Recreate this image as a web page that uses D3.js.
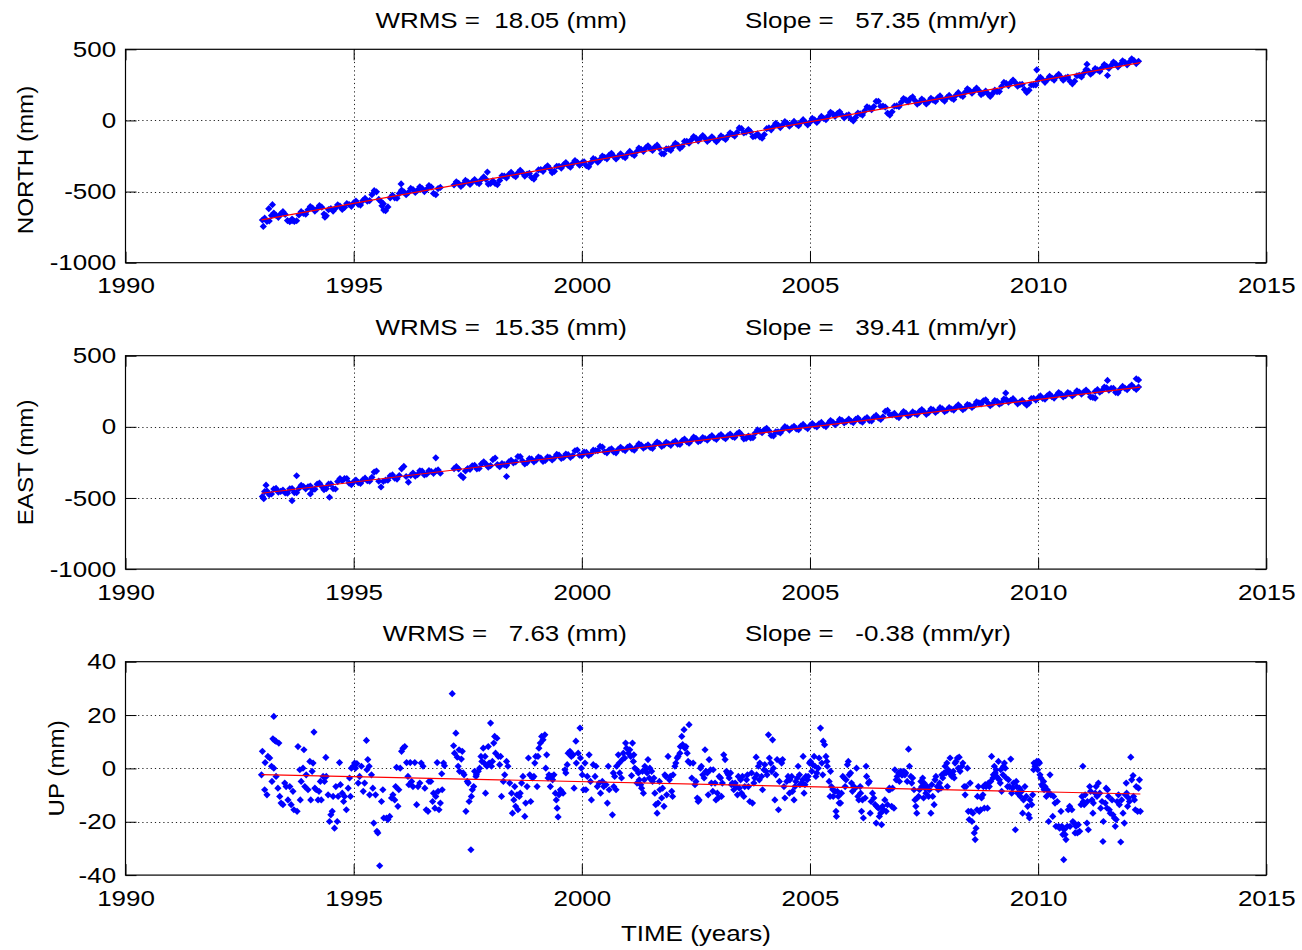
<!DOCTYPE html>
<html>
<head>
<meta charset="utf-8">
<script src="https://cdn.jsdelivr.net/npm/d3@7"></script>
<style>
  body { margin: 0; background: #fff; }
  svg text { font-family: "Liberation Sans", Arial, Helvetica, sans-serif; fill: #000; }
</style>
</head>
<body>
<svg id="chart" width="1302" height="950"></svg>
<script>

// epochs shared by NORTH and EAST (decimal years), gap around 1997.0
const neEpochs = [
  1993.0,1993.1,1993.2,1993.3,1993.4,1993.5,1993.6,1993.7,1993.8,1993.9,
  1994.0,1994.1,1994.2,1994.3,1994.4,1994.5,1994.6,1994.7,1994.8,1994.9,
  1995.0,1995.1,1995.2,1995.3,1995.4,1995.5,1995.6,1995.7,1995.8,1995.9,
  1996.0,1996.1,1996.2,1996.3,1996.4,1996.5,1996.6,1996.7,1996.8,1996.9,
  1997.2,1997.3,1997.4,1997.5,1997.6,1997.7,1997.8,1997.9,
  1998.0,1998.1,1998.2,1998.3,1998.4,1998.5,1998.6,1998.7,1998.8,1998.9,
  1999.0,1999.1,1999.2,1999.3,1999.4,1999.5,1999.6,1999.7,1999.8,1999.9,
  2000.0,2000.1,2000.2,2000.3,2000.4,2000.5,2000.6,2000.7,2000.8,2000.9,
  2001.0,2001.1,2001.2,2001.3,2001.4,2001.5,2001.6,2001.7,2001.8,2001.9,
  2002.0,2002.1,2002.2,2002.3,2002.4,2002.5,2002.6,2002.7,2002.8,2002.9,
  2003.0,2003.1,2003.2,2003.3,2003.4,2003.5,2003.6,2003.7,2003.8,2003.9,
  2004.0,2004.1,2004.2,2004.3,2004.4,2004.5,2004.6,2004.7,2004.8,2004.9,
  2005.0,2005.1,2005.2,2005.3,2005.4,2005.5,2005.6,2005.7,2005.8,2005.9,
  2006.0,2006.1,2006.2,2006.3,2006.4,2006.5,2006.6,2006.7,2006.8,2006.9,
  2007.0,2007.1,2007.2,2007.3,2007.4,2007.5,2007.6,2007.7,2007.8,2007.9,
  2008.0,2008.1,2008.2,2008.3,2008.4,2008.5,2008.6,2008.7,2008.8,2008.9,
  2009.0,2009.1,2009.2,2009.3,2009.4,2009.5,2009.6,2009.7,2009.8,2009.9,
  2010.0,2010.1,2010.2,2010.3,2010.4,2010.5,2010.6,2010.7,2010.8,2010.9,
  2011.0,2011.1,2011.2,2011.3,2011.4,2011.5,2011.6,2011.7,2011.8,2011.9,
  2012.0,2012.1,2012.2
];

const northMm = [
  -700,-709,-669,-668,-657,-661,-711,-710,-664,-653,
  -628,-617,-621,-610,-670,-619,-618,-603,-612,-591,
  -580,-590,-564,-568,-522,-502,-571,-635,-544,-544,
  -513,-502,-506,-486,-490,-479,-484,-468,-522,-471,
  -454,-443,-448,-432,-431,-436,-415,-414,
  -443,-443,-422,-391,-380,-385,-369,-368,-377,-402,
  -386,-345,-334,-339,-358,-322,-312,-316,-305,-294,
  -299,-318,-297,-276,-276,-260,-244,-253,-253,-252,
  -236,-236,-220,-204,-193,-198,-187,-196,-235,-200,
  -184,-173,-182,-147,-136,-125,-124,-124,-133,-132,
  -132,-121,-110,-99,-84,-58,-82,-81,-111,-115,
  -99,-53,-43,-32,-31,-20,-25,-24,-13,-13,
  -12,4,5,15,31,47,48,38,34,10,
  21,46,67,88,98,134,100,51,61,102,
  128,144,154,140,126,137,132,143,159,149,
  160,156,177,177,198,209,210,210,191,187,
  188,203,239,260,266,266,252,218,213,249,
  285,286,286,297,308,304,299,275,276,317,
  332,348,339,355,370,381,387,397,393,409,
  410,420,416
];

const eastMm = [
  -490,-451,-472,-433,-454,-465,-436,-462,-433,-420,
  -421,-442,-403,-419,-435,-401,-437,-363,-364,-395,
  -386,-392,-373,-379,-355,-311,-423,-374,-345,-361,
  -342,-278,-389,-325,-336,-312,-333,-314,-310,-326,
  -294,-296,-357,-293,-274,-295,-261,-262,
  -273,-219,-280,-266,-247,-253,-209,-240,-251,-227,
  -234,-220,-236,-217,-218,-199,-215,-196,-202,-163,
  -204,-180,-191,-167,-138,-175,-161,-177,-158,-159,
  -145,-156,-142,-128,-139,-145,-126,-117,-128,-119,
  -110,-121,-97,-104,-95,-81,-97,-83,-74,-80,
  -66,-72,-63,-69,-50,-56,-82,-78,-44,-30,
  -21,-28,-64,-35,-21,-7,-8,-14,5,-1,
  8,7,21,10,24,33,27,46,39,38,
  52,41,55,44,68,62,71,115,84,73,
  87,96,85,94,108,106,100,119,113,127,
  116,125,139,138,132,151,150,169,183,167,
  161,179,168,192,186,180,174,168,167,201,
  205,199,218,212,221,230,219,233,231,245,
  244,243,207,261,255,274,270,242,266,272,
  280,276,280
];

// in-between epochs (band edges)
const neEpochsMid = [
  1993.05,1993.15,1993.25,1993.35,1993.45,1993.55,1993.65,1993.75,1993.85,1993.95,
  1994.05,1994.15,1994.25,1994.35,1994.45,1994.55,1994.65,1994.75,1994.85,1994.95,
  1995.05,1995.15,1995.25,1995.35,1995.45,1995.55,1995.65,1995.75,1995.85,1995.95,
  1996.05,1996.15,1996.25,1996.35,1996.45,1996.55,1996.65,1996.75,1996.85,
  1997.25,1997.35,1997.45,1997.55,1997.65,1997.75,1997.85,1997.95,
  1998.05,1998.15,1998.25,1998.35,1998.45,1998.55,1998.65,1998.75,1998.85,1998.95,
  1999.05,1999.15,1999.25,1999.35,1999.45,1999.55,1999.65,1999.75,1999.85,1999.95,
  2000.05,2000.15,2000.25,2000.35,2000.45,2000.55,2000.65,2000.75,2000.85,2000.95,
  2001.05,2001.15,2001.25,2001.35,2001.45,2001.55,2001.65,2001.75,2001.85,2001.95,
  2002.05,2002.15,2002.25,2002.35,2002.45,2002.55,2002.65,2002.75,2002.85,2002.95,
  2003.05,2003.15,2003.25,2003.35,2003.45,2003.55,2003.65,2003.75,2003.85,2003.95,
  2004.05,2004.15,2004.25,2004.35,2004.45,2004.55,2004.65,2004.75,2004.85,2004.95,
  2005.05,2005.15,2005.25,2005.35,2005.45,2005.55,2005.65,2005.75,2005.85,2005.95,
  2006.05,2006.15,2006.25,2006.35,2006.45,2006.55,2006.65,2006.75,2006.85,2006.95,
  2007.05,2007.15,2007.25,2007.35,2007.45,2007.55,2007.65,2007.75,2007.85,2007.95,
  2008.05,2008.15,2008.25,2008.35,2008.45,2008.55,2008.65,2008.75,2008.85,2008.95,
  2009.05,2009.15,2009.25,2009.35,2009.45,2009.55,2009.65,2009.75,2009.85,2009.95,
  2010.05,2010.15,2010.25,2010.35,2010.45,2010.55,2010.65,2010.75,2010.85,2010.95,
  2011.05,2011.15,2011.25,2011.35,2011.45,2011.55,2011.65,2011.75,2011.85,2011.95,
  2012.05,2012.15
];

const northMidMm = [
  -687,-707,-651,-681,-641,-704,-693,-705,-641,-659,
  -605,-637,-598,-658,-627,-637,-593,-626,-584,-604,
  -567,-595,-548,-563,-494,-555,-585,-608,-526,-547,
  -490,-522,-478,-506,-467,-500,-458,-513,-479,
  -431,-464,-422,-450,-416,-444,-397,-447,
  -425,-451,-389,-404,-365,-395,-351,-391,-372,-412,
  -348,-358,-319,-367,-322,-335,-296,-329,-282,-315,
  -291,-326,-269,-294,-250,-270,-231,-271,-235,-262,
  -218,-246,-194,-217,-178,-211,-174,-234,-200,-210,
  -161,-196,-147,-160,-113,-143,-106,-147,-115,-150,
  -109,-134,-87,-110,-53,-88,-64,-114,-95,-125,
  -58,-66,-20,-50,-8,-41,-7,-37,5,-31,
  14,-14,28,5,57,29,61,18,40,-3,
  52,38,96,75,134,99,94,38,100,97,
  154,131,165,115,150,116,156,133,172,136,
  176,148,195,169,222,191,228,182,207,169,
  213,203,267,245,284,241,253,197,249,249,
  303,268,309,284,324,283,305,257,314,306,
  358,325,365,344,393,366,410,377,419,391,
  433,400
];

const eastMidMm = [
  -455,-477,-437,-459,-444,-466,-434,-463,-411,-436,
  -416,-438,-396,-442,-403,-434,-385,-379,-364,-406,
  -374,-398,-361,-382,-318,-382,-383,-375,-338,-367,
  -295,-349,-342,-346,-309,-338,-308,-327,-303,
  -280,-342,-310,-299,-270,-293,-246,-283,
  -231,-265,-258,-272,-235,-246,-210,-261,-224,-246,
  -212,-243,-212,-233,-194,-222,-191,-214,-168,-199,
  -177,-201,-164,-168,-142,-183,-154,-183,-144,-167,
  -136,-164,-120,-149,-127,-151,-107,-138,-109,-130,
  -101,-124,-86,-115,-73,-104,-75,-94,-62,-88,
  -54,-83,-51,-75,-38,-84,-65,-76,-22,-41,
  -10,-61,-35,-43,1,-23,4,-20,17,-12,
  23,-1,31,2,44,15,52,28,54,30,
  62,33,65,41,80,52,108,85,94,65,
  107,76,105,86,122,88,125,101,135,107,
  136,117,154,120,157,136,175,161,190,149,
  185,159,195,174,198,162,186,153,199,188,
  217,194,230,202,241,210,241,217,253,230,
  259,210,249,243,280,257,271,239,284,261,
  293,263
];

// isolated points off the main band [year, mm]
const northExtra = [
  [1993.02,-745],[1993.14,-620],[1993.22,-592],[1993.65,-705],[1994.37,-680],
  [1995.62,-600],[1995.66,-630],[1996.04,-446],[1997.93,-363],[2009.97,356],
  [2011.07,395],[2011.52,316]
];

const eastExtra = [
  [1993.03,-505],[1993.08,-410],[1993.65,-519],[1993.75,-344],[1994.05,-472],
  [1994.47,-495],[1996.80,-218],[1998.35,-349],[2009.29,237],[2011.25,202],
  [2011.52,326],[2012.15,338],[2012.20,330]
];

// vertical residuals [year, mm]
const upPts = [
  [1992.98,-2.4],[1993.00,6.4],[1993.05,-8.0],[1993.06,2.2],[1993.10,-9.9],[1993.12,4.5],[1993.16,3.9],
  [1993.20,0.8],[1993.21,-4.9],[1993.23,11.1],[1993.25,19.5],[1993.25,0.1],[1993.27,10.5],[1993.30,10.1],
  [1993.30,-3.0],[1993.34,-7.4],[1993.36,9.5],[1993.38,-10.5],[1993.41,-13.0],[1993.45,-13.6],[1993.49,-5.5],
  [1993.52,-6.8],[1993.56,-11.8],[1993.60,-6.8],[1993.63,-13.6],[1993.67,-8.6],[1993.69,-15.5],[1993.76,-16.1],
  [1993.78,8.2],[1993.82,-0.5],[1993.83,-11.8],[1993.85,-4.9],[1993.89,0.1],[1993.91,7.0],[1993.93,-6.8],
  [1993.96,-2.4],[1994.00,-8.0],[1994.04,2.6],[1994.06,-11.8],[1994.09,-1.1],[1994.11,2.0],[1994.13,13.6],
  [1994.15,-7.4],[1994.18,-8.0],[1994.22,-11.8],[1994.24,-8.6],[1994.27,-4.9],[1994.29,-11.8],[1994.33,-3.0],
  [1994.36,-4.9],[1994.39,4.1],[1994.40,-3.0],[1994.44,-9.9],[1994.47,-19.9],[1994.50,-17.4],[1994.53,-16.1],
  [1994.55,-10.5],[1994.58,-22.4],[1994.61,-6.8],[1994.64,-19.9],[1994.66,-10.5],[1994.69,2.2],[1994.71,-6.1],
  [1994.75,-9.3],[1994.78,-12.4],[1994.80,-10.5],[1994.84,-15.5],[1994.88,-7.4],[1994.91,-3.6],[1994.93,-10.5],
  [1994.95,0.1],[1994.99,0.8],[1995.02,2.0],[1995.04,0.1],[1995.07,1.8],[1995.10,-5.5],[1995.13,-3.0],
  [1995.17,0.8],[1995.21,-8.6],[1995.24,-5.5],[1995.28,10.5],[1995.29,-0.5],[1995.31,3.3],[1995.34,0.8],
  [1995.35,-9.9],[1995.39,-2.4],[1995.42,-7.4],[1995.44,-20.5],[1995.48,-9.9],[1995.51,-23.6],[1995.53,-24.2],
  [1995.57,-36.5],[1995.61,-12.4],[1995.64,-8.0],[1995.66,-18.6],[1995.72,-18.6],[1995.75,-19.2],[1995.79,-18.0],
  [1995.83,-11.1],[1995.86,-9.9],[1995.90,-11.8],[1995.92,-6.8],[1995.94,0.4],[1995.97,-14.2],[1995.99,-8.0],
  [1996.02,0.1],[1996.05,6.4],[1996.08,7.6],[1996.12,8.2],[1996.16,2.2],[1996.19,-3.0],[1996.21,-6.1],
  [1996.24,2.2],[1996.27,-4.9],[1996.30,-6.8],[1996.34,2.2],[1996.38,-13.6],[1996.41,-6.8],[1996.45,-5.5],
  [1996.48,2.0],[1996.52,0.8],[1996.56,-7.4],[1996.59,-15.5],[1996.63,-16.1],[1996.65,-4.9],
  [1996.69,-4.9],[1996.73,-12.4],[1996.75,-9.3],[1996.78,-14.9],[1996.80,-10.5],[1996.83,2.2],[1996.85,-8.6],
  [1996.87,-15.5],[1996.90,-13.0],[1996.93,-2.0],[1996.94,-8.0],[1996.97,2.0],[1996.99,1.0],
  [1997.16,28.0],[1997.19,8.5],[1997.21,5.7],[1997.24,13.2],[1997.27,4.2],[1997.29,0.8],[1997.31,7.0],
  [1997.32,-1.1],[1997.36,3.5],[1997.38,6.4],[1997.40,-1.7],[1997.42,-2.4],[1997.46,-16.1],[1997.49,-4.9],
  [1997.51,-5.5],[1997.53,-12.4],[1997.57,-30.5],[1997.58,-10.5],[1997.60,-8.0],[1997.63,-6.8],[1997.65,-1.1],
  [1997.68,-3.0],[1997.69,-2.4],[1997.73,-1.1],[1997.76,0.1],[1997.79,4.5],[1997.81,2.6],[1997.84,7.6],
  [1997.86,2.0],[1997.88,4.5],[1997.89,-9.3],[1997.92,0.8],[1997.95,8.2],[1997.97,2.0],[1998.00,17.0],
  [1998.02,0.8],[1998.04,2.6],[1998.07,9.5],[1998.09,12.0],[1998.11,5.7],[1998.14,11.3],[1998.17,4.5],
  [1998.20,1.4],[1998.22,4.5],[1998.24,-10.5],[1998.28,-4.9],[1998.31,-2.4],[1998.35,2.6],[1998.38,0.8],
  [1998.42,-5.5],[1998.46,-9.3],[1998.48,-16.8],[1998.51,-11.8],[1998.53,-6.8],[1998.55,-14.2],[1998.58,-9.9],
  [1998.60,-15.5],[1998.63,-10.5],[1998.65,-9.3],[1998.68,-5.5],[1998.71,-3.0],[1998.75,-18.0],[1998.77,-13.0],
  [1998.80,-6.8],[1998.83,3.9],[1998.86,-2.4],[1998.88,-12.4],[1998.92,-3.6],[1998.95,-3.0],[1998.97,2.0],
  [1998.99,4.5],[1999.02,-6.8],[1999.04,4.5],[1999.06,7.6],[1999.09,9.5],[1999.12,12.0],[1999.15,10.7],
  [1999.19,12.6],[1999.21,0.1],[1999.23,5.1],[1999.26,-3.6],[1999.28,-2.4],[1999.31,-6.8],[1999.34,-3.0],
  [1999.36,-4.3],[1999.39,-2.4],[1999.42,-9.3],[1999.44,-11.8],[1999.46,-14.9],[1999.48,-18.2],[1999.50,-9.9],
  [1999.53,-8.0],[1999.55,-8.6],[1999.59,-9.3],[1999.63,-0.5],[1999.65,-1.7],[1999.68,1.4],[1999.70,5.7],
  [1999.74,6.4],[1999.77,4.5],[1999.81,5.1],[1999.83,-7.4],[1999.87,10.2],[1999.88,2.0],[1999.92,5.7],
  [1999.96,15.1],[1999.97,3.9],[1999.99,0.1],[2000.01,-2.4],[2000.04,-8.0],[2000.07,2.0],[2000.09,-8.0],
  [2000.12,-3.0],[2000.16,5.1],[2000.19,-4.9],[2000.21,-11.8],[2000.25,1.4],[2000.29,-3.0],[2000.31,0.8],
  [2000.34,-6.8],[2000.38,-5.5],[2000.41,-9.3],[2000.45,-4.9],[2000.48,-6.8],[2000.53,-6.1],[2000.56,-13.0],
  [2000.58,0.8],[2000.60,-8.0],
  [2000.67,-17.4],[2000.69,-1.7],[2000.70,-6.8],[2000.72,-3.0],[2000.75,-8.0],[2000.76,0.8],[2000.80,5.1],
  [2000.82,2.0],[2000.83,-1.7],[2000.87,-3.6],[2000.89,3.3],[2000.91,5.7],[2000.94,3.9],[2000.96,9.5],
  [2000.98,7.6],[2001.02,5.7],[2001.05,7.0],[2001.07,4.5],[2001.09,-2.7],[2001.11,9.5],[2001.13,2.6],
  [2001.14,5.1],[2001.16,0.1],[2001.20,-0.5],[2001.21,-5.5],[2001.24,-1.7],[2001.26,-4.3],[2001.29,-6.1],
  [2001.31,-7.4],[2001.33,-1.1],[2001.35,-9.3],[2001.37,-4.3],[2001.38,0.8],[2001.40,-0.5],[2001.43,-1.7],
  [2001.45,3.3],[2001.48,-3.6],[2001.49,0.1],[2001.53,-1.1],[2001.55,-4.9],[2001.58,-3.6],[2001.60,-9.3],
  [2001.62,-13.6],[2001.65,-16.8],[2001.67,-13.0],[2001.70,-4.9],[2001.71,-8.0],[2001.75,-11.1],[2001.77,-7.4],
  [2001.80,-14.2],[2001.82,-2.4],[2001.84,-3.0],[2001.86,-9.9],[2001.89,4.5],[2001.92,-4.3],[2001.94,-3.0],
  [2001.97,-8.6],[2001.99,-10.5],[2002.00,-2.4],[2002.04,0.8],[2002.06,2.0],[2002.09,3.9],[2002.11,4.5],
  [2002.15,5.7],[2002.16,8.2],[2002.19,12.0],[2002.21,8.9],[2002.24,14.5],[2002.26,7.6],[2002.28,8.2],
  [2002.31,5.7],[2002.33,2.6],[2002.35,16.4],[2002.37,2.0],[2002.41,-3.6],[2002.44,2.0],[2002.48,-6.1],
  [2002.50,-4.9],[2002.53,-11.1],[2002.55,-12.4],[2002.57,-11.8],[2002.60,0.1],[2002.62,0.8],[2002.65,-2.4],
  [2002.68,-3.6],[2002.70,7.0],[2002.72,-1.1],[2002.75,-1.7],[2002.77,-9.9],[2002.79,3.3],[2002.82,-0.5],
  [2002.84,-5.5],[2002.87,-8.6],[2002.88,-0.5],[2002.92,-5.5],[2002.94,-11.8],[2002.97,-9.3],[2002.99,-11.1],
  [2003.01,-3.0],[2003.04,-3.6],[2003.06,-10.5],[2003.08,-5.5],[2003.11,5.1],[2003.14,3.3],[2003.17,-1.1],
  [2003.19,-1.7],[2003.21,-2.4],[2003.23,-3.6],[2003.26,-1.7],[2003.28,-6.1],[2003.30,-5.5],[2003.33,-8.0],
  [2003.36,-5.5],[2003.38,-6.8],[2003.41,-9.9],[2003.43,-3.0],[2003.45,-7.4],[2003.48,-4.3],[2003.50,-9.3],
  [2003.52,-3.0],[2003.55,-10.5],[2003.57,-6.8],[2003.61,-4.3],[2003.63,-2.4],[2003.65,-6.8],[2003.68,-12.4],
  [2003.72,-1.7],[2003.74,-13.0],[2003.77,-5.5],[2003.79,-3.6],[2003.82,4.2],[2003.83,-2.4],[2003.87,0.8],
  [2003.89,-4.3],[2003.90,2.0],[2003.94,-3.0],[2003.96,-8.0],[2003.99,-0.5],[2004.01,1.4],[2004.04,-1.1],
  [2004.06,-2.4],[2004.09,12.6],[2004.11,3.9],[2004.14,2.0],[2004.16,-1.1],[2004.18,10.7],[2004.20,0.1],
  [2004.23,-11.8],[2004.25,-2.4],[2004.28,3.3],[2004.31,-15.5],[2004.33,-4.9],[2004.36,2.6],[2004.38,2.0],
  [2004.40,3.3],[2004.43,-6.8],[2004.45,-11.1],[2004.49,-4.9],[2004.52,-3.0],[2004.55,-9.3],
  [2004.56,-4.3],[2004.60,-3.0],[2004.62,-8.6],[2004.65,-11.8],[2004.67,-6.8],[2004.69,-4.9],[2004.72,-3.6],
  [2004.74,0.8],[2004.77,-2.4],[2004.78,-6.1],[2004.82,-5.5],[2004.84,-4.3],[2004.85,4.5],[2004.87,-9.3],
  [2004.89,-6.1],[2004.91,-3.0],[2004.94,-4.3],[2004.96,-3.0],[2004.99,2.0],[2005.01,2.6],[2005.04,-1.1],
  [2005.06,1.4],[2005.09,4.5],[2005.11,0.8],[2005.13,-3.0],[2005.15,-1.7],[2005.18,0.1],[2005.20,3.9],
  [2005.23,15.1],[2005.26,2.0],[2005.28,-2.4],[2005.29,10.2],[2005.32,8.9],[2005.35,4.5],[2005.37,2.6],
  [2005.38,0.8],[2005.42,-4.9],[2005.44,-10.5],[2005.45,-1.1],[2005.47,-6.8],[2005.50,-8.0],[2005.51,-10.5],
  [2005.55,-8.6],[2005.57,-16.1],[2005.58,-18.0],[2005.60,-8.6],[2005.62,-10.5],[2005.64,-13.0],[2005.67,-13.0],
  [2005.69,-9.3],[2005.72,-3.0],[2005.75,-3.6],[2005.77,-6.8],[2005.79,-4.3],[2005.82,1.4],[2005.84,2.6],
  [2005.86,-2.4],[2005.89,-1.7],[2005.91,-5.5],[2005.93,-8.6],[2005.96,-6.8],[2005.99,-7.4],[2006.02,0.1],
  [2006.05,-10.5],[2006.07,-11.8],[2006.10,-6.8],[2006.11,-9.3],[2006.13,-16.1],[2006.15,-11.8],[2006.17,-18.6],
  [2006.21,-11.1],[2006.23,0.8],[2006.24,-3.0],[2006.28,-5.5],[2006.30,-4.9],[2006.32,-16.8],[2006.34,-12.4],
  [2006.37,-9.3],[2006.40,-11.1],[2006.43,-13.6],[2006.45,-20.5],[2006.46,-14.2],[2006.50,-14.9],[2006.52,-18.0],
  [2006.55,-16.8],[2006.57,-21.1],[2006.59,-14.2],[2006.61,-15.5],[2006.64,-11.8],[2006.67,-16.1],[2006.70,-13.6],
  [2006.72,-8.0],[2006.74,-7.4],[2006.75,-8.0],[2006.79,-14.2],[2006.81,-7.4],[2006.84,-14.9],[2006.86,-0.5],
  [2006.89,-4.3],[2006.91,-3.0],[2006.94,-1.7],[2006.96,-4.9],[2006.99,-1.1],[2007.01,-2.4],[2007.03,-2.4],
  [2007.06,-1.1],[2007.08,-2.4],[2007.10,-1.7],[2007.13,-4.9],[2007.16,7.2],[2007.18,0.8],[2007.21,-3.0],
  [2007.23,-5.5],[2007.25,-3.6],[2007.28,-8.0],[2007.30,-11.8],[2007.32,-14.2],[2007.34,-16.8],[2007.35,-11.1],
  [2007.38,-10.5],[2007.40,-8.0],[2007.43,-4.9],[2007.45,-6.8],[2007.47,-3.6],[2007.49,-11.1],[2007.50,-5.5],
  [2007.52,-7.4],[2007.54,-9.3],[2007.57,-6.8],[2007.60,-10.5],[2007.62,-8.0],[2007.65,-16.8],[2007.67,-6.1],
  [2007.69,-10.5],[2007.72,-13.6],[2007.74,-4.3],[2007.76,-3.0],[2007.79,-6.8],[2007.81,-8.0],[2007.84,-5.5],
  [2007.87,-7.4],[2007.89,-2.4],[2007.91,-3.6],[2007.94,-1.7],[2007.96,0.8],[2007.98,-1.7],[2008.00,2.0],
  [2008.01,-6.8],[2008.03,-0.5],[2008.05,-1.7],[2008.07,3.9],[2008.11,-3.0],[2008.13,-2.4],[2008.14,-1.1],
  [2008.16,-3.6],[2008.18,2.0],[2008.20,2.6],[2008.23,3.9],[2008.25,0.1],[2008.27,4.2],[2008.29,-1.1],
  [2008.33,0.8],[2008.35,2.0],[2008.38,-6.8],[2008.40,-9.9],[2008.42,-6.8],[2008.45,0.1],[2008.47,-16.1],
  [2008.49,-19.2],
  [2008.51,-5.5],[2008.53,-16.1],[2008.55,-19.9],[2008.57,-16.8],[2008.60,-24.2],[2008.62,-26.7],[2008.64,-22.4],
  [2008.66,-15.5],[2008.67,-10.5],[2008.69,-6.8],[2008.71,-16.1],[2008.74,-15.5],[2008.76,-11.1],[2008.79,-9.9],
  [2008.80,-6.8],[2008.82,-14.9],[2008.84,-6.1],[2008.86,-6.8],[2008.89,-14.9],[2008.91,-5.5],[2008.93,-6.8],
  [2008.96,-4.9],[2008.98,4.5],[2009.01,-3.6],[2009.02,-2.4],[2009.04,0.8],[2009.06,-1.7],[2009.08,-0.5],
  [2009.09,-3.0],[2009.11,-3.6],[2009.13,2.6],[2009.15,-4.3],[2009.17,-5.5],[2009.18,-0.5],[2009.20,-8.6],
  [2009.23,-2.4],[2009.24,0.8],[2009.26,2.0],[2009.28,0.1],[2009.30,-3.6],[2009.33,-6.8],[2009.35,-4.3],
  [2009.37,-6.8],[2009.40,3.5],[2009.42,-9.3],[2009.44,-7.4],[2009.46,-5.5],[2009.50,-23.0],[2009.52,-4.9],
  [2009.53,-6.8],[2009.55,-9.3],[2009.59,-7.4],[2009.61,-10.5],[2009.64,-8.6],[2009.66,-16.8],[2009.68,-11.8],
  [2009.71,-6.8],[2009.74,-10.5],[2009.77,-14.2],[2009.79,-17.4],[2009.81,-18.6],[2009.82,-11.8],[2009.86,-13.6],
  [2009.88,-9.9],[2009.90,-0.5],[2009.91,2.0],[2009.93,0.8],[2009.96,1.4],[2009.97,2.6],[2009.99,-0.5],
  [2010.01,2.6],[2010.03,2.0],[2010.04,-2.4],[2010.06,-3.6],[2010.08,-6.1],[2010.10,-6.8],[2010.12,-4.9],
  [2010.13,-8.0],[2010.15,-6.8],[2010.18,-10.5],[2010.20,-8.0],[2010.23,-19.9],[2010.25,-9.3],[2010.26,-2.4],
  [2010.28,-9.9],[2010.32,-18.0],[2010.34,-10.5],[2010.37,-13.0],[2010.39,-21.7],[2010.42,-12.4],[2010.45,-21.7],
  [2010.47,-22.4],[2010.50,-16.1],[2010.52,-21.7],[2010.54,-24.8],[2010.56,-34.2],[2010.57,-23.0],[2010.59,-24.8],
  [2010.61,-26.7],[2010.64,-21.7],[2010.66,-15.5],[2010.69,-14.2],[2010.70,-21.7],[2010.74,-15.5],[2010.76,-19.9],
  [2010.79,-20.5],[2010.81,-24.2],[2010.83,-21.7],[2010.86,-24.2],[2010.88,-21.1],[2010.91,-23.6],[2010.94,-13.6],
  [2010.96,-10.5],[2010.98,0.8],[2010.99,-12.4],[2011.01,-13.6],[2011.03,-9.9],[2011.07,-20.5],[2011.08,-12.4],
  [2011.10,-23.0],[2011.13,-6.8],[2011.15,-8.6],[2011.18,-11.8],[2011.20,-16.8],[2011.21,-13.0],[2011.25,-9.3],
  [2011.27,-6.8],[2011.29,-10.5],[2011.32,-5.5],[2011.35,-9.3],[2011.37,-14.9],[2011.40,-12.4],[2011.42,-27.4],
  [2011.43,-19.9],[2011.47,-13.0],[2011.49,-7.4],[2011.51,-14.9],[2011.52,-8.0],[2011.54,-10.5],[2011.56,-15.5],
  [2011.58,-16.8],[2011.62,-11.8],[2011.64,-17.4],[2011.67,-18.6],[2011.69,-21.7],[2011.71,-19.2],[2011.73,-12.4],
  [2011.76,-9.9],[2011.78,-13.6],[2011.81,-27.6],[2011.83,-11.8],[2011.86,-16.8],[2011.89,-20.5],[2011.91,-9.9],
  [2011.93,-5.5],[2011.94,-9.3],[2011.96,-14.2],[2011.98,-11.1],[2012.00,-12.4],[2012.03,4.2],[2012.05,-4.3],
  [2012.08,-2.7],[2012.09,-10.5],[2012.11,-11.8],[2012.13,-15.5],[2012.15,-6.8],[2012.18,-16.1],[2012.20,-7.4],
  [2012.22,-4.3],[2012.24,-16.1]
];

// fitted trend end points [year, mm]
const northFit = [[1992.98,-699],[2012.24,406]];
const eastFit  = [[1992.98,-467],[2012.24,279]];
const upFit    = [[1992.98,-2.3],[2012.24,-9.6]];

const yearTicks = [1990,1995,2000,2005,2010,2015];
const neTicks = [-1000,-500,0,500];
const upTicks = [-40,-20,0,20,40];

const wrmsText  = ["WRMS =  18.05 (mm)", "WRMS =  15.35 (mm)", "WRMS =   7.63 (mm)"];
const slopeText = ["Slope =   57.35 (mm/yr)", "Slope =   39.41 (mm/yr)", "Slope =   -0.38 (mm/yr)"];
const yLabels = ["NORTH (mm)", "EAST (mm)", "UP (mm)"];

const left = 125.5, right = 1266.3;
const panelH = 213.4;
const tickLen = 11;
const fontSize = 22;
const stretch = "scale(1.18,1)";   // the lettering of the original is wide

const svg = d3.select("#chart");

const x = d3.scaleLinear().domain([1990, 2015]).range([left, right]);

const diamond = "M0,-3.6L3.6,0L0,3.6L-3.6,0Z";

const zipPts = (ts, vs) => ts.map((t, i) => [t, vs[i]]);

const panels = [
  { top: 49.3,  domain: [-1000, 500], ticks: neTicks,
    pts: zipPts(neEpochs, northMm).concat(zipPts(neEpochsMid, northMidMm), northExtra),
    fit: northFit, labelX: 33, labelShift: 4 },
  { top: 355.7, domain: [-1000, 500], ticks: neTicks,
    pts: zipPts(neEpochs, eastMm).concat(zipPts(neEpochsMid, eastMidMm), eastExtra),
    fit: eastFit, labelX: 33, labelShift: 0 },
  { top: 661.7, domain: [-40, 40], ticks: upTicks,
    pts: upPts, fit: upFit, labelX: 64, labelShift: 0 }
];

panels.forEach((p, k) => {
  const top = p.top, bottom = top + panelH;
  const y = d3.scaleLinear().domain(p.domain).range([bottom, top]);
  const g = svg.append("g");

  // dotted grid
  const grid = g.append("g").attr("stroke", "#222").attr("stroke-width", 1).attr("stroke-dasharray", "1.2,3");
  grid.selectAll("line.gx")
      .data(yearTicks.slice(1, -1))
      .join("line")
      .attr("x1", d => Math.round(x(d)) + 0.5).attr("x2", d => Math.round(x(d)) + 0.5)
      .attr("y1", top).attr("y2", bottom);
  grid.selectAll("line.gy")
      .data(p.ticks.slice(1, -1))
      .join("line")
      .attr("x1", left).attr("x2", right)
      .attr("y1", d => Math.round(y(d)) + 0.5).attr("y2", d => Math.round(y(d)) + 0.5);

  // points
  g.append("g")
      .selectAll("path")
      .data(p.pts)
      .join("path")
      .attr("d", diamond)
      .attr("transform", d => `translate(${x(d[0])},${y(d[1])})`)
      .attr("fill", "#0000ff");

  // trend line
  g.append("path")
      .datum(p.fit)
      .attr("d", d3.line().x(d => x(d[0])).y(d => y(d[1])))
      .attr("fill", "none")
      .attr("stroke", "#ff0000")
      .attr("stroke-width", 1.2);

  // axes, ticks pointing inward
  const plain = d => `${d}`;
  const bottomAxis = g.append("g")
      .attr("transform", `translate(0,${bottom})`)
      .call(d3.axisBottom(x).tickValues(yearTicks).tickSize(-tickLen).tickPadding(15).tickFormat(plain));
  const topAxis = g.append("g")
      .attr("transform", `translate(0,${top})`)
      .call(d3.axisTop(x).tickValues(yearTicks).tickSize(-tickLen).tickFormat(""));
  const leftAxis = g.append("g")
      .attr("transform", `translate(${left},0)`)
      .call(d3.axisLeft(y).tickValues(p.ticks).tickSize(-tickLen).tickPadding(8).tickFormat(plain));
  const rightAxis = g.append("g")
      .attr("transform", `translate(${right},0)`)
      .call(d3.axisRight(y).tickValues(p.ticks).tickSize(-tickLen).tickFormat(""));

  [bottomAxis, topAxis, leftAxis, rightAxis].forEach(a => {
    a.select(".domain").remove();
    a.attr("font-size", fontSize).attr("font-family", null);
    a.selectAll("line").attr("stroke", "#000");
    a.selectAll("text").attr("transform", stretch);
  });

  // frame
  g.append("rect")
      .attr("x", left).attr("y", top)
      .attr("width", right - left).attr("height", panelH)
      .attr("fill", "none").attr("stroke", "#000").attr("stroke-width", 1.2);

  // header
  g.append("text")
      .attr("transform", `translate(627,${top - 21}) ${stretch}`)
      .attr("text-anchor", "end")
      .attr("font-size", fontSize)
      .style("white-space", "pre")
      .text(wrmsText[k]);
  g.append("text")
      .attr("transform", `translate(745,${top - 21}) ${stretch}`)
      .attr("text-anchor", "start")
      .attr("font-size", fontSize)
      .style("white-space", "pre")
      .text(slopeText[k]);

  // y label
  g.append("text")
      .attr("transform", `translate(${p.labelX},${(top + bottom) / 2 + p.labelShift}) rotate(-90) scale(1.1,1)`)
      .attr("text-anchor", "middle")
      .attr("font-size", fontSize)
      .text(yLabels[k]);
});

svg.append("text")
    .attr("transform", `translate(${(left + right) / 2},941) ${stretch}`)
    .attr("text-anchor", "middle")
    .attr("font-size", fontSize)
    .text("TIME (years)");

</script>
</body>
</html>
